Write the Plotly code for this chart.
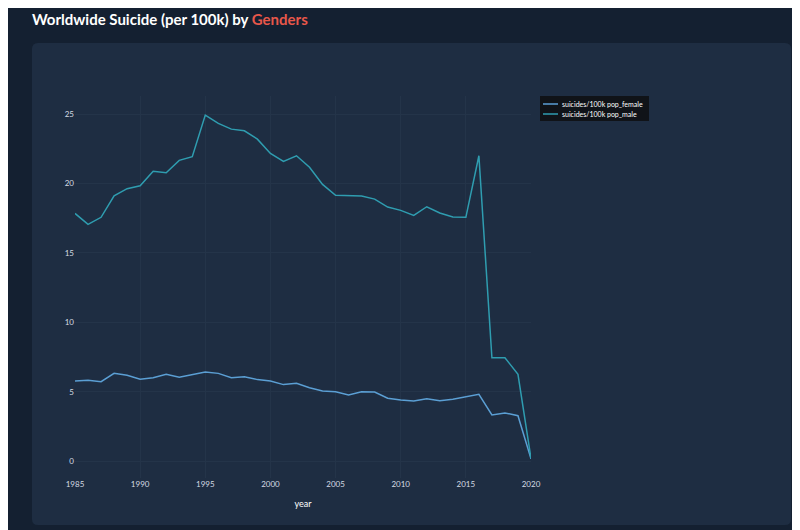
import plotly.graph_objects as go

years = list(range(1985, 2021))

female = [5.78, 5.83, 5.73, 6.33, 6.19, 5.90, 6.02, 6.26, 6.05, 6.26,
          6.43, 6.33, 6.02, 6.09, 5.88, 5.78, 5.52, 5.62, 5.30, 5.06,
          5.01, 4.77, 5.01, 4.99, 4.54, 4.41, 4.34, 4.51, 4.36, 4.46,
          4.65, 4.82, 3.33, 3.48, 3.28, 0.17]

male = [17.85, 17.06, 17.57, 19.12, 19.63, 19.84, 20.88, 20.78, 21.67, 21.93,
        24.93, 24.33, 23.92, 23.80, 23.20, 22.17, 21.60, 22.00, 21.17, 19.94,
        19.15, 19.12, 19.10, 18.88, 18.31, 18.07, 17.71, 18.33, 17.88, 17.59,
        17.57, 22.00, 7.46, 7.46, 6.26, 0.20]

series_names = ["suicides/100k pop_female", "suicides/100k pop_male"]
series_values = [female, male]
series_colors = ["#5b9fd4", "#2f9db0"]

PAGE_BG = "#142031"
CARD_BG = "#1e2d42"
TEXT = "#d5dbe2"

# the page puts the figure 8px in from the top-left corner,
# so positions below are given in window pixels and shifted back
OFF = 8
W, H = 800, 530
L, R, T, B = 75 - OFF, W - (531 - OFF), 96 - OFF, H - (478 - OFF)
pw, ph = W - L - R, H - T - B


def px_x(v):
    return (v - OFF - L) / pw


def px_y(v):
    return (H - B - (v - OFF)) / ph


fig = go.Figure()
for name, vals, color in zip(series_names, series_values, series_colors):
    fig.add_trace(
        go.Scatter(
            x=years,
            y=vals,
            name=name,
            mode="lines",
            line=dict(color=color, width=1.5),
            showlegend=False,
        )
    )

# rounded card behind the chart
x0, x1, y0, y1 = px_x(32), px_x(791), px_y(525), px_y(43)
rx, ry = 6 / pw, 6 / ph
card = (
    f"M{x0 + rx},{y0} L{x1 - rx},{y0} Q{x1},{y0} {x1},{y0 + ry} "
    f"L{x1},{y1 - ry} Q{x1},{y1} {x1 - rx},{y1} "
    f"L{x0 + rx},{y1} Q{x0},{y1} {x0},{y1 - ry} "
    f"L{x0},{y0 + ry} Q{x0},{y0} {x0 + rx},{y0} Z"
)

shapes = [
    dict(type="path", path=card, xref="paper", yref="paper",
         fillcolor=CARD_BG, line=dict(width=0), layer="below"),
    # compact legend box
    dict(type="rect", xref="paper", yref="paper",
         x0=px_x(540), x1=px_x(649), y0=px_y(121), y1=px_y(96),
         fillcolor="#101318", line=dict(width=0), layer="above"),
]
annotations = [
    dict(
        text="<b>Worldwide Suicide (per 100k) by "
        "<span style='color:#e8574a'>Genders</span></b>",
        xref="paper", yref="paper",
        x=px_x(30), y=px_y(19),
        xanchor="left", yanchor="middle", showarrow=False,
        font=dict(family="Lato, sans-serif", size=15, color="#ffffff"),
    )
]
for i, (name, color) in enumerate(zip(series_names, series_colors)):
    row_y = px_y(104 + 10 * i)
    shapes.append(
        dict(type="line", xref="paper", yref="paper",
             x0=px_x(543), x1=px_x(558), y0=row_y, y1=row_y,
             line=dict(color=color, width=1.5), layer="above")
    )
    annotations.append(
        dict(text=name, xref="paper", yref="paper",
             x=px_x(561), y=row_y, xanchor="left", yanchor="middle",
             showarrow=False, borderpad=0,
             font=dict(family="Lato, sans-serif", size=7, color="#ffffff"))
    )

axis_common = dict(
    showgrid=True,
    gridcolor="#243449",
    gridwidth=1,
    zeroline=False,
    showline=False,
    ticks="",
    tickfont=dict(size=8, color=TEXT),
)

fig.update_layout(
    width=W,
    height=H,
    margin=dict(l=L, r=R, t=T, b=B, pad=0),
    paper_bgcolor=PAGE_BG,
    plot_bgcolor="rgba(0,0,0,0)",
    font=dict(family="Lato, 'Open Sans', sans-serif", color=TEXT),
    shapes=shapes,
    annotations=annotations,
    xaxis=dict(
        axis_common,
        dtick=5,
        title=dict(text="year", font=dict(size=9, color="#ffffff"), standoff=12),
    ),
    yaxis=dict(axis_common, dtick=5),
    showlegend=False,
)

fig.write_html("out.html")
